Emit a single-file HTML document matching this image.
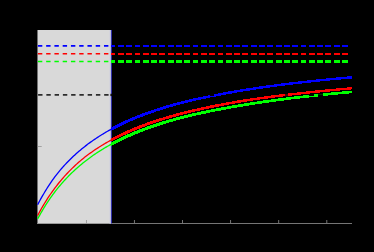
<!DOCTYPE html>
<html><head><meta charset="utf-8"><style>
html,body{margin:0;padding:0;background:#000;}
body{width:374px;height:252px;overflow:hidden;font-family:"Liberation Sans",sans-serif;}
svg{display:block}
</style></head><body>
<svg width="374" height="252" viewBox="0 0 374 252">
<rect width="374" height="252" fill="#000"/>
<rect x="37.3" y="30" width="72.7" height="193.7" fill="#d9d9d9"/>
<rect x="37.1" y="30" width="0.7" height="193.6" fill="#555" opacity="0.8"/>
<rect x="37.3" y="223" width="74.7" height="1" fill="#9a9a9a"/>
<rect x="112" y="223" width="240" height="1" fill="#757575"/>
<rect x="85.98" y="220" width="0.65" height="3.2" fill="#808080"/>
<rect x="133.95" y="220" width="0.90" height="3.2" fill="#808080"/>
<rect x="182.05" y="220" width="0.90" height="3.2" fill="#808080"/>
<rect x="230.15" y="220" width="0.90" height="3.2" fill="#808080"/>
<rect x="278.25" y="220" width="0.90" height="3.2" fill="#808080"/>
<rect x="326.35" y="220" width="0.90" height="3.2" fill="#808080"/>
<rect x="37.6" y="146" width="4.1" height="0.7" fill="#8a8a8a"/>
<rect x="110" y="30" width="1" height="193.6" fill="#bcbcda"/>
<rect x="109.5" y="30" width="0.5" height="193.6" fill="#cfcfde"/>
<rect x="111" y="30" width="1" height="193.6" fill="#3030a8"/>
<line x1="38.1" y1="94.9" x2="110.3" y2="94.9" stroke="#2c2c2c" stroke-width="1.8" stroke-dasharray="4.4 3.86"/>
<rect x="110.4" y="93.8" width="1.7" height="2.3" fill="#111"/>
<line x1="37.9" y1="45.95" x2="111" y2="45.95" stroke="#0000ff" stroke-width="1.75" stroke-dasharray="4.4 3.86"/>
<path fill="#0000ff" d="M111 45h4v2h-4zM118 45h6v2h-6zM126 45h6v2h-6zM135 45h5v2h-5zM143 45h6v2h-6zM151 45h6v2h-6zM159 45h6v2h-6zM168 45h6v2h-6zM176 45h6v2h-6zM184 45h6v2h-6zM193 45h5v2h-5zM201 45h6v2h-6zM209 45h6v2h-6zM218 45h5v2h-5zM226 45h6v2h-6zM234 45h6v2h-6zM242 45h6v2h-6zM251 45h6v2h-6zM259 45h6v2h-6zM267 45h6v2h-6zM276 45h6v2h-6zM284 45h6v2h-6zM292 45h6v2h-6zM301 45h5v2h-5zM309 45h6v2h-6zM317 45h6v2h-6zM325 45h6v2h-6zM334 45h6v2h-6zM342 45h6v2h-6z"/>
<line x1="37.9" y1="53.85" x2="111" y2="53.85" stroke="#ff0000" stroke-width="1.50" stroke-dasharray="4.4 3.86"/>
<path fill="#ff0000" d="M111 53h4v2h-4zM118 53h6v2h-6zM126 53h6v2h-6zM135 53h5v2h-5zM143 53h6v2h-6zM151 53h6v2h-6zM159 53h6v2h-6zM168 53h6v2h-6zM176 53h6v2h-6zM184 53h6v2h-6zM193 53h5v2h-5zM201 53h6v2h-6zM209 53h6v2h-6zM218 53h5v2h-5zM226 53h6v2h-6zM234 53h6v2h-6zM242 53h6v2h-6zM251 53h6v2h-6zM259 53h6v2h-6zM267 53h6v2h-6zM276 53h6v2h-6zM284 53h6v2h-6zM292 53h6v2h-6zM301 53h5v2h-5zM309 53h6v2h-6zM317 53h6v2h-6zM325 53h6v2h-6zM334 53h6v2h-6zM342 53h6v2h-6z"/>
<line x1="37.9" y1="61.45" x2="111" y2="61.45" stroke="#00ff00" stroke-width="1.50" stroke-dasharray="4.4 3.86"/>
<path fill="#00ff00" d="M111 60h4v3h-4zM118 60h6v3h-6zM126 60h6v3h-6zM135 60h5v3h-5zM143 60h6v3h-6zM151 60h6v3h-6zM159 60h6v3h-6zM168 60h6v3h-6zM176 60h6v3h-6zM184 60h6v3h-6zM193 60h5v3h-5zM201 60h6v3h-6zM209 60h6v3h-6zM218 60h5v3h-5zM226 60h6v3h-6zM234 60h6v3h-6zM242 60h6v3h-6zM251 60h6v3h-6zM259 60h6v3h-6zM267 60h6v3h-6zM276 60h6v3h-6zM284 60h6v3h-6zM292 60h6v3h-6zM301 60h5v3h-5zM309 60h6v3h-6zM317 60h6v3h-6zM325 60h6v3h-6zM334 60h6v3h-6zM342 60h6v3h-6z"/>
<polyline fill="none" stroke="#00ff00" stroke-width="1.3" points="37.60,219.01 38.60,217.15 39.60,215.33 40.60,213.55 41.60,211.81 42.60,210.11 43.60,208.44 44.60,206.81 45.60,205.22 46.60,203.66 47.60,202.13 48.60,200.63 49.60,199.16 50.60,197.73 51.60,196.32 52.60,194.94 53.60,193.58 54.60,192.26 55.60,190.95 56.60,189.68 57.60,188.42 58.60,187.19 59.60,185.99 60.60,184.80 61.60,183.64 62.60,182.50 63.60,181.37 64.60,180.27 65.60,179.19 66.60,178.13 67.60,177.08 68.60,176.05 69.60,175.04 70.60,174.05 71.60,173.07 72.60,172.11 73.60,171.17 74.60,170.24 75.60,169.32 76.60,168.42 77.60,167.54 78.60,166.67 79.60,165.81 80.60,164.96 81.60,164.13 82.60,163.31 83.60,162.51 84.60,161.71 85.60,160.93 86.60,160.16 87.60,159.40 88.60,158.65 89.60,157.92 90.60,157.19 91.60,156.47 92.60,155.77 93.60,155.07 94.60,154.38 95.60,153.71 96.60,153.04 97.60,152.38 98.60,151.73 99.60,151.09 100.60,150.46 101.60,149.84 102.60,149.22 103.60,148.61 104.60,148.01 105.60,147.42 106.60,146.84 107.60,146.26 108.60,145.69 109.60,145.13 110.60,144.58 111.60,144.03"/>
<polyline fill="none" stroke="#ff0000" stroke-width="1.3" points="37.60,215.61 38.60,213.72 39.60,211.87 40.60,210.07 41.60,208.30 42.60,206.58 43.60,204.89 44.60,203.23 45.60,201.61 46.60,200.03 47.60,198.47 48.60,196.95 49.60,195.46 50.60,194.00 51.60,192.56 52.60,191.16 53.60,189.78 54.60,188.43 55.60,187.10 56.60,185.80 57.60,184.52 58.60,183.26 59.60,182.03 60.60,180.82 61.60,179.63 62.60,178.46 63.60,177.31 64.60,176.18 65.60,175.08 66.60,174.00 67.60,172.94 68.60,171.90 69.60,170.87 70.60,169.86 71.60,168.87 72.60,167.89 73.60,166.93 74.60,165.99 75.60,165.06 76.60,164.14 77.60,163.24 78.60,162.35 79.60,161.48 80.60,160.62 81.60,159.77 82.60,158.94 83.60,158.14 84.60,157.36 85.60,156.58 86.60,155.82 87.60,155.06 88.60,154.32 89.60,153.59 90.60,152.87 91.60,152.16 92.60,151.46 93.60,150.77 94.60,150.08 95.60,149.41 96.60,148.75 97.60,148.10 98.60,147.45 99.60,146.82 100.60,146.19 101.60,145.57 102.60,144.96 103.60,144.36 104.60,143.76 105.60,143.18 106.60,142.60 107.60,142.02 108.60,141.46 109.60,140.90 110.60,140.35 111.60,139.81"/>
<polyline fill="none" stroke="#0000ff" stroke-width="1.3" points="37.60,204.72 38.60,202.83 39.60,200.98 40.60,199.17 41.60,197.40 42.60,195.66 43.60,193.96 44.60,192.27 45.60,190.63 46.60,189.02 47.60,187.44 48.60,185.89 49.60,184.37 50.60,182.88 51.60,181.42 52.60,179.99 53.60,178.58 54.60,177.20 55.60,175.85 56.60,174.56 57.60,173.31 58.60,172.08 59.60,170.87 60.60,169.69 61.60,168.53 62.60,167.39 63.60,166.27 64.60,165.17 65.60,164.09 66.60,163.03 67.60,161.99 68.60,160.96 69.60,159.96 70.60,158.96 71.60,157.99 72.60,157.03 73.60,156.09 74.60,155.16 75.60,154.25 76.60,153.35 77.60,152.47 78.60,151.60 79.60,150.74 80.60,149.90 81.60,149.07 82.60,148.25 83.60,147.45 84.60,146.66 85.60,145.88 86.60,145.11 87.60,144.35 88.60,143.60 89.60,142.87 90.60,142.14 91.60,141.43 92.60,140.72 93.60,140.03 94.60,139.34 95.60,138.67 96.60,138.00 97.60,137.35 98.60,136.70 99.60,136.06 100.60,135.43 101.60,134.80 102.60,134.19 103.60,133.58 104.60,132.99 105.60,132.40 106.60,131.81 107.60,131.24 108.60,130.67 109.60,130.11 110.60,129.56 111.60,129.01"/>
<rect x="285" y="94" width="3" height="2" fill="#4a0000"/>
<rect x="318" y="94" width="5" height="1" fill="#003800"/>
<path fill="#00ff00" d="M111 142h1v4h-1zM112 142h1v3h-1zM113 141h1v4h-1zM114 141h1v3h-1zM115 140h1v4h-1zM116 140h1v3h-1zM117 139h1v4h-1zM118 139h1v3h-1zM119 138h1v4h-1zM120 138h1v3h-1zM121 137h1v4h-1zM122 137h1v3h-1zM123 136h1v4h-1zM124 136h1v3h-1zM125 135h1v4h-1zM126 135h1v3h-1zM127 134h1v4h-1zM128 134h1v3h-1zM129 134h1v3h-1zM130 133h1v4h-1zM131 133h1v3h-1zM132 132h1v4h-1zM133 132h1v3h-1zM134 131h1v4h-1zM135 131h1v3h-1zM136 131h1v3h-1zM137 130h1v4h-1zM138 130h1v3h-1zM139 129h1v4h-1zM140 129h1v3h-1zM141 129h1v3h-1zM142 128h1v4h-1zM143 128h1v3h-1zM144 128h1v3h-1zM145 127h1v3h-1zM146 127h1v3h-1zM147 126h1v4h-1zM148 126h1v3h-1zM149 126h1v3h-1zM150 125h1v4h-1zM151 125h1v3h-1zM152 125h1v3h-1zM153 124h1v4h-1zM154 124h1v3h-1zM155 124h1v3h-1zM156 123h1v4h-1zM157 123h1v3h-1zM158 123h1v3h-1zM159 122h1v4h-1zM160 122h1v3h-1zM161 122h1v3h-1zM162 121h1v4h-1zM163 121h1v3h-1zM164 121h1v3h-1zM165 121h1v3h-1zM166 120h1v3h-1zM167 120h1v3h-1zM168 120h1v3h-1zM169 119h1v3h-1zM170 119h1v3h-1zM171 119h1v3h-1zM172 119h1v3h-1zM173 118h1v3h-1zM174 118h1v3h-1zM175 118h1v3h-1zM176 117h1v3h-1zM177 117h1v3h-1zM178 117h1v3h-1zM179 117h1v3h-1zM180 116h1v3h-1zM181 116h1v3h-1zM182 116h1v3h-1zM183 116h1v3h-1zM184 115h1v3h-1zM185 115h1v3h-1zM186 115h1v3h-1zM187 115h1v3h-1zM188 114h1v3h-1zM189 114h1v3h-1zM190 114h1v3h-1zM191 114h1v3h-1zM192 113h1v3h-1zM193 113h1v3h-1zM194 113h1v3h-1zM195 113h1v3h-1zM196 113h1v2h-1zM197 112h1v3h-1zM198 112h1v3h-1zM199 112h1v3h-1zM200 112h1v3h-1zM201 111h1v3h-1zM202 111h1v3h-1zM203 111h1v3h-1zM204 111h1v3h-1zM205 111h1v3h-1zM206 110h1v3h-1zM207 110h1v3h-1zM208 110h1v3h-1zM209 110h1v3h-1zM210 110h1v2h-1zM211 109h1v3h-1zM212 109h1v3h-1zM213 109h1v3h-1zM214 109h1v3h-1zM215 109h1v2h-1zM216 108h1v3h-1zM217 108h1v3h-1zM218 108h1v3h-1zM219 108h1v3h-1zM220 108h1v3h-1zM221 107h1v3h-1zM222 107h1v3h-1zM223 107h1v3h-1zM224 107h1v3h-1zM225 107h1v3h-1zM226 107h1v2h-1zM227 106h1v3h-1zM228 106h1v3h-1zM229 106h1v3h-1zM230 106h1v3h-1zM231 106h1v2h-1zM232 105h1v3h-1zM233 105h1v3h-1zM234 105h1v3h-1zM235 105h1v3h-1zM236 105h1v3h-1zM237 105h1v2h-1zM238 104h1v3h-1zM239 104h1v3h-1zM240 104h1v3h-1zM241 104h1v3h-1zM242 104h1v3h-1zM243 104h1v2h-1zM244 103h1v3h-1zM245 103h1v3h-1zM246 103h1v3h-1zM247 103h1v3h-1zM248 103h1v3h-1zM249 103h1v2h-1zM250 102h1v3h-1zM251 102h1v3h-1zM252 102h1v3h-1zM253 102h1v3h-1zM254 102h1v3h-1zM255 102h1v2h-1zM256 102h1v2h-1zM257 101h1v3h-1zM258 101h1v3h-1zM259 101h1v3h-1zM260 101h1v3h-1zM261 101h1v3h-1zM262 101h1v2h-1zM263 100h1v3h-1zM264 100h1v3h-1zM265 100h1v3h-1zM266 100h1v3h-1zM267 100h1v3h-1zM268 100h1v3h-1zM269 100h1v2h-1zM270 100h1v2h-1zM271 99h1v3h-1zM272 99h1v3h-1zM273 99h1v3h-1zM274 99h1v3h-1zM275 99h1v3h-1zM276 99h1v2h-1zM277 99h1v2h-1zM278 98h1v3h-1zM279 98h1v3h-1zM280 98h1v3h-1zM281 98h1v3h-1zM282 98h1v3h-1zM283 98h1v3h-1zM284 98h1v2h-1zM285 98h1v2h-1zM286 97h1v3h-1zM287 97h1v3h-1zM288 97h1v3h-1zM289 97h1v3h-1zM290 97h1v3h-1zM291 97h1v2h-1zM292 97h1v2h-1zM293 97h1v2h-1zM294 96h1v3h-1zM295 96h1v3h-1zM296 96h1v3h-1zM297 96h1v3h-1zM298 96h1v3h-1zM299 96h1v3h-1zM300 96h1v2h-1zM301 96h1v2h-1zM302 96h1v2h-1zM303 95h1v3h-1zM304 95h1v3h-1zM305 95h1v3h-1zM306 95h1v3h-1zM307 95h1v3h-1zM308 95h1v3h-1zM309 96h1v1h-1zM310 96h1v1h-1zM311 96h1v1h-1zM312 96h1v1h-1zM313 96h1v1h-1zM314 94h1v3h-1zM315 94h1v3h-1zM316 94h1v3h-1zM317 94h1v3h-1zM323 93h1v3h-1zM324 93h1v3h-1zM325 93h1v3h-1zM326 93h1v3h-1zM327 93h1v3h-1zM328 93h1v2h-1zM329 93h1v2h-1zM330 93h1v2h-1zM331 92h1v3h-1zM332 92h1v3h-1zM333 92h1v3h-1zM334 92h1v3h-1zM335 92h1v3h-1zM336 92h1v3h-1zM337 92h1v3h-1zM338 92h1v2h-1zM339 92h1v2h-1zM340 92h1v2h-1zM341 92h1v2h-1zM342 91h1v3h-1zM343 91h1v3h-1zM344 91h1v3h-1zM345 91h1v3h-1zM346 91h1v3h-1zM347 91h1v3h-1zM348 91h1v3h-1zM349 91h1v2h-1zM350 91h1v2h-1zM351 91h1v2h-1z"/>
<path fill="#ff0000" d="M111 138h1v3h-1zM112 138h1v3h-1zM113 137h1v3h-1zM114 137h1v3h-1zM115 136h1v3h-1zM116 136h1v3h-1zM117 135h1v3h-1zM118 135h1v3h-1zM119 134h1v3h-1zM120 134h1v3h-1zM121 133h1v3h-1zM122 133h1v3h-1zM123 132h1v3h-1zM124 132h1v3h-1zM125 131h1v4h-1zM126 131h1v3h-1zM127 130h1v4h-1zM128 130h1v3h-1zM129 130h1v3h-1zM130 129h1v3h-1zM131 129h1v3h-1zM132 128h1v3h-1zM133 128h1v3h-1zM134 127h1v4h-1zM135 127h1v3h-1zM136 127h1v3h-1zM137 126h1v3h-1zM138 126h1v3h-1zM139 125h1v4h-1zM140 125h1v3h-1zM141 125h1v3h-1zM142 124h1v3h-1zM143 124h1v3h-1zM144 124h1v3h-1zM145 123h1v3h-1zM146 123h1v3h-1zM147 122h1v3h-1zM148 122h1v3h-1zM149 122h1v3h-1zM150 121h1v3h-1zM151 121h1v3h-1zM152 121h1v3h-1zM153 120h1v3h-1zM154 120h1v3h-1zM155 120h1v3h-1zM156 119h1v3h-1zM157 119h1v3h-1zM158 119h1v3h-1zM159 118h1v3h-1zM160 118h1v3h-1zM161 118h1v3h-1zM162 118h1v2h-1zM163 117h1v3h-1zM164 117h1v3h-1zM165 117h1v2h-1zM166 116h1v3h-1zM167 116h1v3h-1zM168 116h1v3h-1zM169 115h1v3h-1zM170 115h1v3h-1zM171 115h1v3h-1zM172 115h1v2h-1zM173 114h1v3h-1zM174 114h1v3h-1zM175 114h1v3h-1zM176 113h1v3h-1zM177 113h1v3h-1zM178 113h1v3h-1zM179 113h1v2h-1zM180 112h1v3h-1zM181 112h1v3h-1zM182 112h1v3h-1zM183 112h1v2h-1zM184 111h1v3h-1zM185 111h1v3h-1zM186 111h1v3h-1zM187 111h1v2h-1zM188 110h1v3h-1zM189 110h1v3h-1zM190 110h1v3h-1zM191 110h1v2h-1zM192 109h1v3h-1zM193 109h1v3h-1zM194 109h1v3h-1zM195 109h1v2h-1zM196 109h1v2h-1zM197 108h1v3h-1zM198 108h1v3h-1zM199 108h1v3h-1zM200 108h1v2h-1zM201 107h1v3h-1zM202 107h1v3h-1zM203 107h1v3h-1zM204 107h1v2h-1zM205 107h1v2h-1zM206 106h1v3h-1zM207 106h1v3h-1zM208 106h1v3h-1zM209 106h1v2h-1zM210 105h1v3h-1zM211 105h1v3h-1zM212 105h1v3h-1zM213 105h1v3h-1zM214 105h1v2h-1zM215 104h1v3h-1zM216 104h1v3h-1zM217 104h1v3h-1zM218 104h1v3h-1zM219 104h1v2h-1zM220 104h1v2h-1zM221 103h1v3h-1zM222 103h1v3h-1zM223 103h1v3h-1zM224 103h1v2h-1zM225 103h1v2h-1zM226 102h1v3h-1zM227 102h1v3h-1zM228 102h1v3h-1zM229 102h1v2h-1zM230 102h1v2h-1zM231 102h1v2h-1zM232 101h1v3h-1zM233 101h1v3h-1zM234 101h1v3h-1zM235 101h1v2h-1zM236 101h1v2h-1zM237 100h1v3h-1zM238 100h1v3h-1zM239 100h1v3h-1zM240 100h1v3h-1zM241 100h1v2h-1zM242 100h1v2h-1zM243 99h1v3h-1zM244 99h1v3h-1zM245 99h1v3h-1zM246 99h1v3h-1zM247 99h1v2h-1zM248 99h1v2h-1zM249 99h1v2h-1zM250 98h1v3h-1zM251 98h1v3h-1zM252 98h1v3h-1zM253 98h1v2h-1zM254 98h1v2h-1zM255 98h1v2h-1zM256 98h1v2h-1zM257 97h1v3h-1zM258 97h1v3h-1zM259 97h1v3h-1zM260 97h1v2h-1zM261 97h1v2h-1zM262 97h1v2h-1zM263 97h1v2h-1zM264 96h1v3h-1zM265 96h1v3h-1zM266 96h1v3h-1zM267 96h1v3h-1zM268 96h1v2h-1zM269 96h1v2h-1zM270 96h1v2h-1zM271 95h1v3h-1zM272 95h1v3h-1zM273 95h1v3h-1zM274 95h1v3h-1zM275 95h1v2h-1zM276 95h1v2h-1zM277 95h1v2h-1zM278 95h1v2h-1zM279 94h1v3h-1zM280 94h1v3h-1zM281 94h1v3h-1zM282 94h1v3h-1zM283 94h1v2h-1zM284 94h1v2h-1zM288 93h1v3h-1zM289 93h1v3h-1zM290 93h1v3h-1zM291 93h1v3h-1zM292 93h1v2h-1zM293 93h1v2h-1zM294 93h1v2h-1zM295 93h1v2h-1zM296 93h1v2h-1zM297 92h1v3h-1zM298 92h1v3h-1zM299 92h1v3h-1zM300 92h1v3h-1zM301 92h1v2h-1zM302 92h1v2h-1zM303 92h1v2h-1zM304 92h1v2h-1zM305 92h1v2h-1zM306 91h1v3h-1zM307 91h1v3h-1zM308 91h1v3h-1zM309 91h1v3h-1zM310 91h1v2h-1zM311 91h1v2h-1zM312 91h1v2h-1zM313 91h1v2h-1zM314 91h1v2h-1zM315 90h1v3h-1zM316 90h1v3h-1zM317 90h1v3h-1zM318 90h1v3h-1zM319 90h1v3h-1zM320 90h1v2h-1zM321 90h1v2h-1zM322 90h1v2h-1zM323 90h1v2h-1zM324 90h1v2h-1zM325 89h1v3h-1zM326 89h1v3h-1zM327 89h1v3h-1zM328 89h1v3h-1zM329 89h1v3h-1zM330 89h1v2h-1zM331 89h1v2h-1zM332 89h1v2h-1zM333 89h1v2h-1zM334 89h1v2h-1zM335 89h1v2h-1zM336 88h1v3h-1zM337 88h1v3h-1zM338 88h1v3h-1zM339 88h1v3h-1zM340 88h1v2h-1zM341 88h1v2h-1zM342 88h1v2h-1zM343 88h1v2h-1zM344 88h1v2h-1zM345 88h1v2h-1zM346 88h1v2h-1zM347 87h1v3h-1zM348 87h1v3h-1zM349 87h1v3h-1zM350 87h1v3h-1zM351 87h1v2h-1z"/>
<path fill="#0000ff" d="M111 127h1v3h-1zM112 127h1v3h-1zM113 126h1v4h-1zM114 126h1v3h-1zM115 125h1v4h-1zM116 125h1v3h-1zM117 124h1v4h-1zM118 124h1v3h-1zM119 123h1v4h-1zM120 123h1v3h-1zM121 122h1v4h-1zM122 122h1v3h-1zM123 121h1v4h-1zM124 121h1v3h-1zM125 120h1v4h-1zM126 120h1v3h-1zM127 120h1v3h-1zM128 119h1v3h-1zM129 119h1v3h-1zM130 118h1v3h-1zM131 118h1v3h-1zM132 117h1v4h-1zM133 117h1v3h-1zM134 117h1v3h-1zM135 116h1v3h-1zM136 116h1v3h-1zM137 115h1v3h-1zM138 115h1v3h-1zM139 115h1v3h-1zM140 114h1v3h-1zM141 114h1v3h-1zM142 113h1v4h-1zM143 113h1v3h-1zM144 113h1v3h-1zM145 112h1v3h-1zM146 112h1v3h-1zM147 112h1v3h-1zM148 111h1v3h-1zM149 111h1v3h-1zM150 111h1v3h-1zM151 110h1v3h-1zM152 110h1v3h-1zM153 110h1v3h-1zM154 109h1v3h-1zM155 109h1v3h-1zM156 109h1v2h-1zM157 108h1v3h-1zM158 108h1v3h-1zM159 108h1v3h-1zM160 107h1v3h-1zM161 107h1v3h-1zM162 107h1v3h-1zM163 106h1v3h-1zM164 106h1v3h-1zM165 106h1v3h-1zM166 105h1v3h-1zM167 105h1v3h-1zM168 105h1v3h-1zM169 105h1v2h-1zM170 104h1v3h-1zM171 104h1v3h-1zM172 104h1v3h-1zM173 103h1v3h-1zM174 103h1v3h-1zM175 103h1v3h-1zM176 103h1v2h-1zM177 102h1v3h-1zM178 102h1v3h-1zM179 102h1v3h-1zM180 102h1v2h-1zM181 101h1v3h-1zM182 101h1v3h-1zM183 101h1v3h-1zM184 101h1v2h-1zM185 100h1v3h-1zM186 100h1v3h-1zM187 100h1v3h-1zM188 100h1v2h-1zM189 99h1v3h-1zM190 99h1v3h-1zM191 99h1v3h-1zM192 99h1v2h-1zM193 98h1v3h-1zM194 98h1v3h-1zM195 98h1v3h-1zM196 98h1v2h-1zM197 98h1v2h-1zM198 97h1v3h-1zM199 97h1v3h-1zM200 97h1v3h-1zM201 97h1v2h-1zM202 97h1v2h-1zM203 96h1v3h-1zM204 96h1v3h-1zM205 96h1v3h-1zM206 96h1v2h-1zM207 96h1v2h-1zM208 95h1v3h-1zM209 95h1v3h-1zM210 96h1v1h-1zM211 96h1v1h-1zM212 96h1v1h-1zM213 96h1v1h-1zM214 94h1v3h-1zM215 94h1v3h-1zM216 94h1v2h-1zM217 94h1v2h-1zM218 93h1v3h-1zM219 93h1v3h-1zM220 93h1v3h-1zM221 93h1v2h-1zM222 93h1v2h-1zM223 92h1v3h-1zM224 92h1v3h-1zM225 92h1v3h-1zM226 92h1v2h-1zM227 92h1v2h-1zM228 91h1v3h-1zM229 91h1v3h-1zM230 91h1v3h-1zM231 91h1v3h-1zM232 91h1v2h-1zM233 91h1v2h-1zM234 90h1v3h-1zM235 90h1v3h-1zM236 90h1v3h-1zM237 90h1v2h-1zM238 90h1v2h-1zM239 90h1v2h-1zM240 89h1v3h-1zM241 89h1v3h-1zM242 89h1v3h-1zM243 89h1v2h-1zM244 89h1v2h-1zM245 89h1v2h-1zM246 88h1v3h-1zM247 88h1v3h-1zM248 88h1v3h-1zM249 88h1v3h-1zM250 88h1v2h-1zM251 88h1v2h-1zM252 88h1v2h-1zM253 87h1v3h-1zM254 87h1v3h-1zM255 87h1v3h-1zM256 87h1v2h-1zM257 87h1v2h-1zM258 87h1v2h-1zM259 86h1v3h-1zM260 86h1v3h-1zM261 86h1v3h-1zM262 86h1v3h-1zM263 86h1v2h-1zM264 86h1v2h-1zM265 86h1v2h-1zM266 85h1v3h-1zM267 85h1v3h-1zM268 85h1v3h-1zM269 85h1v3h-1zM270 85h1v2h-1zM271 85h1v2h-1zM272 85h1v2h-1zM273 85h1v2h-1zM274 84h1v3h-1zM275 84h1v3h-1zM276 84h1v3h-1zM277 84h1v2h-1zM278 84h1v2h-1zM279 84h1v2h-1zM280 84h1v2h-1zM281 83h1v3h-1zM282 83h1v3h-1zM283 83h1v3h-1zM284 83h1v3h-1zM285 83h1v2h-1zM286 83h1v2h-1zM287 83h1v2h-1zM288 83h1v2h-1zM289 82h1v3h-1zM290 82h1v3h-1zM291 82h1v3h-1zM292 82h1v3h-1zM293 82h1v2h-1zM294 82h1v2h-1zM295 82h1v2h-1zM296 82h1v2h-1zM297 82h1v2h-1zM298 81h1v3h-1zM299 81h1v3h-1zM300 81h1v3h-1zM301 81h1v3h-1zM302 81h1v2h-1zM303 81h1v2h-1zM304 81h1v2h-1zM305 81h1v2h-1zM306 81h1v2h-1zM307 80h1v3h-1zM308 80h1v3h-1zM309 80h1v3h-1zM310 80h1v3h-1zM311 80h1v2h-1zM312 80h1v2h-1zM313 80h1v2h-1zM314 80h1v2h-1zM315 80h1v2h-1zM316 79h1v3h-1zM317 79h1v3h-1zM318 79h1v3h-1zM319 79h1v3h-1zM320 79h1v2h-1zM321 79h1v2h-1zM322 79h1v2h-1zM323 79h1v2h-1zM324 79h1v2h-1zM325 79h1v2h-1zM326 78h1v3h-1zM327 78h1v3h-1zM328 78h1v3h-1zM329 78h1v3h-1zM330 78h1v2h-1zM331 78h1v2h-1zM332 78h1v2h-1zM333 78h1v2h-1zM334 78h1v2h-1zM335 78h1v2h-1zM336 77h1v3h-1zM337 77h1v3h-1zM338 77h1v3h-1zM339 77h1v3h-1zM340 77h1v3h-1zM341 77h1v2h-1zM342 77h1v2h-1zM343 77h1v2h-1zM344 77h1v2h-1zM345 77h1v2h-1zM346 77h1v2h-1zM347 76h1v3h-1zM348 76h1v3h-1zM349 76h1v3h-1zM350 76h1v3h-1zM351 76h1v3h-1z"/>
</svg>
</body></html>
